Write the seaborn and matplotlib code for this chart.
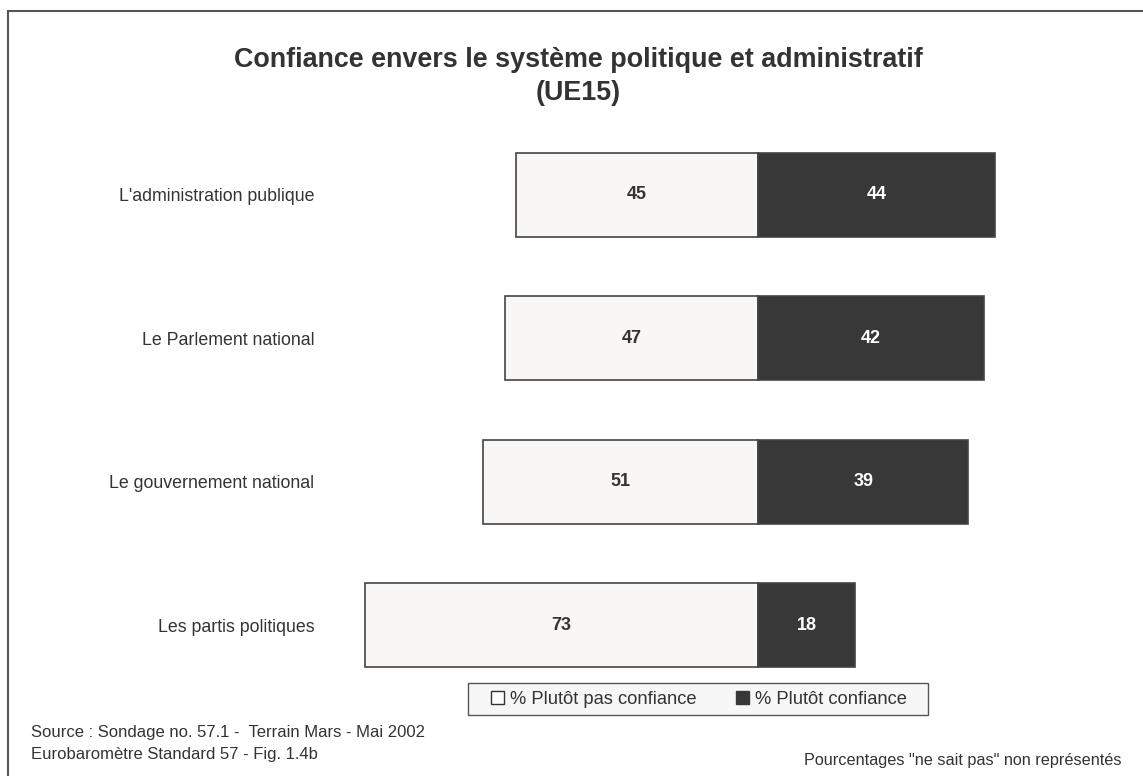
import matplotlib
matplotlib.use("Agg")
import matplotlib.pyplot as plt
import seaborn as sns
import pandas as pd
from matplotlib.patches import Rectangle, Patch

# Data
categories = ["L'administration publique", "Le Parlement national",
              "Le gouvernement national", "Les partis politiques"]
pas_confiance = [45, 47, 51, 73]
confiance = [44, 42, 39, 18]
legend_labels = ["% Plutôt pas confiance", "% Plutôt confiance"]

light = "#f8f7f5"
dark = "#383838"
txt = "#333333"

sns.set_style("white")
plt.rcParams['font.family'] = ['Liberation Sans', 'DejaVu Sans']

W, H = 1143, 776
fig = plt.figure(figsize=(W / 100, H / 100), dpi=100)

# axes placement in pixels
x0, x1 = 327, 1111
y_top, y_bot = 110, 680
ax = fig.add_axes([x0 / W, 1 - y_bot / H, (x1 - x0) / W, (y_bot - y_top) / H])

df = pd.DataFrame({"cat": categories,
                   "neg": [-v for v in pas_confiance],
                   "pos": confiance})

sns.barplot(data=df, y="cat", x="neg", orient="h", color=light, width=0.585,
            edgecolor="#444444", linewidth=1.2, saturation=1, ax=ax)
sns.barplot(data=df, y="cat", x="pos", orient="h", color=dark, width=0.585,
            edgecolor="#444444", linewidth=1.2, saturation=1, ax=ax)

for i, (a, b) in enumerate(zip(pas_confiance, confiance)):
    ax.text(-a / 2, i, str(a), ha="center", va="center", fontsize=13,
            fontweight="bold", color=txt)
    ax.text(b / 2, i, str(b), ha="center", va="center", fontsize=13,
            fontweight="bold", color="white")

ax.set_xlim(-80, 65.5)
ax.set_ylim(3.383, -0.592)
ax.set_xlabel("")
ax.set_ylabel("")
ax.set_xticks([])
ax.tick_params(axis="y", length=0, pad=9, labelsize=12.8, labelcolor=txt)
sns.despine(ax=ax, left=True, bottom=True)

# Title
fig.text(578 / W, 1 - 60 / H, "Confiance envers le système politique et administratif",
         ha="center", va="center", fontsize=19.4, fontweight="bold", color=txt)
fig.text(578 / W, 1 - 93 / H, "(UE15)", ha="center", va="center",
         fontsize=19.4, fontweight="bold", color=txt)

# Legend box drawn separately
fig.patches.append(Rectangle((468 / W, 1 - 715 / H), 460 / W, 32 / H,
                             transform=fig.transFigure, facecolor="#f7f7f7",
                             edgecolor="#555555", linewidth=1, zorder=0))
handles = [Patch(facecolor="white", edgecolor="#333333", linewidth=1),
           Patch(facecolor=dark, edgecolor=dark)]
leg = fig.legend(handles, legend_labels, loc="center", ncol=2,
                 bbox_to_anchor=(699 / W, 1 - 699 / H), fontsize=13.2,
                 frameon=False, handlelength=0.7, handleheight=0.7,
                 handletextpad=0.3, columnspacing=2.2, borderpad=0,
                 borderaxespad=0)
for t in leg.get_texts():
    t.set_color(txt)

# Footer texts
fig.text(31 / W, 1 - 733 / H, "Source : Sondage no. 57.1 -  Terrain Mars - Mai 2002",
         ha="left", va="center", fontsize=12, color=txt)
fig.text(31 / W, 1 - 755 / H, "Eurobaromètre Standard 57 - Fig. 1.4b",
         ha="left", va="center", fontsize=12, color=txt)
fig.text(1121 / W, 1 - 761 / H, 'Pourcentages "ne sait pas" non représentés',
         ha="right", va="center", fontsize=11.7, color=txt)

# Outer frame
fig.patches.append(Rectangle((8 / W, -0.1), 1.2, 1 - 11 / H + 0.1,
                             transform=fig.transFigure, fill=False,
                             edgecolor="#555555", linewidth=1.5))

fig.savefig("out.png", dpi=100)
